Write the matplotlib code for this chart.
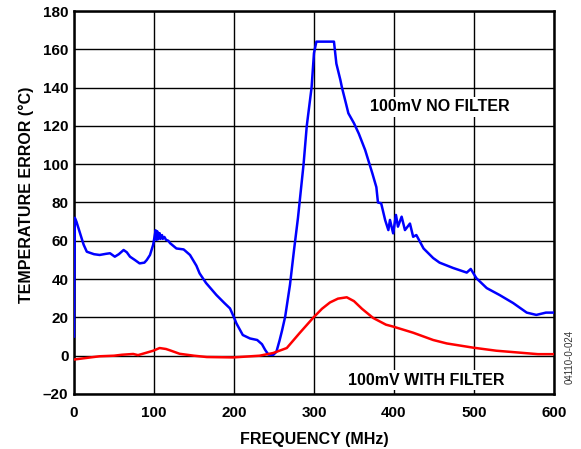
import matplotlib
matplotlib.use("Agg")
import matplotlib.pyplot as plt

plt.rcParams['font.family'] = ['Liberation Sans', 'DejaVu Sans']
plt.rcParams['font.weight'] = 'bold'

# -------------------------------------------------------
# Datos
# -------------------------------------------------------
freq_nofilt = [0, 1, 3, 7.5, 12, 16, 25, 32, 40, 45, 51, 56, 62, 66, 70, 76, 82, 88,
               91, 95, 99, 102, 103, 104, 105, 107, 108, 110, 111, 113, 115, 118,
               120, 128, 137, 139, 145, 153, 157, 165, 178, 188, 195, 200, 203, 211,
               220, 229, 235, 239, 243, 249, 253, 257, 260, 264, 270, 275, 280, 284,
               287, 291, 297, 300, 303, 325, 328, 333, 335, 340, 343, 350, 356, 364,
               373, 378, 380, 384, 389, 393, 395, 399, 402.5, 405, 409.6, 413.75, 420,
               424, 428, 432.5, 437, 449, 457, 474, 491, 496, 503, 516, 532, 549, 566,
               578, 590, 600]
err_nofilt = [10, 72, 70, 64, 58, 54.3, 53, 52.6, 53.2, 53.5, 51.7, 53, 55.2, 54,
              51.7, 50, 48.2, 48.6, 50, 52.6, 58, 65.5, 60.5, 65, 60.8, 64, 61, 63, 61,
              62, 60.5, 60, 58.8, 56, 55.5, 54.8, 52.6, 47, 43, 38, 31.7, 27.5, 24.7,
              20, 16.9, 10.8, 9, 8.2, 6, 3, 0.6, 0.4, 2, 8, 13, 20.4, 37, 55, 72, 88,
              100, 120, 140, 158, 164, 164, 152.5, 144, 140, 131.7, 126.6, 121.4, 116,
              107.4, 95.2, 88, 80, 79.6, 70.8, 65.6, 70.9, 63.9, 73.5, 67.4, 72.6, 65.6,
              69, 62.1, 63, 59.5, 56, 51, 48.6, 45.8, 43.4, 45.3, 40.5, 35.3, 31.7,
              27.5, 22.5, 21.3, 22.5, 22.5]

freq_filt = [0, 15, 32, 50, 60, 74, 80, 90, 99, 107, 115, 120, 132, 150, 166, 199,
             232, 249, 266, 282, 299, 310, 320, 330, 341, 350, 360, 374, 390, 399,
             424, 449, 466, 499, 528, 557, 580, 600]
err_filt = [-2, -1.2, -0.3, 0, 0.5, 0.9, 0.3, 1.5, 2.6, 4, 3.5, 2.8, 1, 0, -0.7,
            -0.9, 0, 1.4, 4, 11.8, 19.8, 24.5, 27.8, 29.8, 30.5, 28.5, 24.5, 19.7,
            16.2, 15.2, 12, 8.2, 6.4, 4.2, 2.6, 1.6, 0.8, 0.8]

xticks = [0, 100, 200, 300, 400, 500, 600]
yticks = [-20, 0, 20, 40, 60, 80, 100, 120, 140, 160, 180]
ytick_labels = ["\u201320" if v < 0 else str(v) for v in yticks]

# -------------------------------------------------------
# Gráfica
# -------------------------------------------------------
fig = plt.figure(figsize=(5.81, 4.49), dpi=100)
ax = fig.add_axes([0.1274, 0.1225, 0.826, 0.853])

ax.plot(freq_nofilt, err_nofilt, color="#0000ff", lw=1.8, zorder=3)
ax.plot(freq_filt, err_filt, color="#ff0000", lw=1.8, zorder=3)

ax.set_xlim(0, 600)
ax.set_ylim(-20, 180)
ax.set_xticks(xticks)
ax.set_yticks(yticks)
ax.set_yticklabels(ytick_labels)
ax.tick_params(length=0, labelsize=11)
ax.tick_params(axis="x", pad=9)
ax.tick_params(axis="y", pad=4)
for lab in ax.get_xticklabels() + ax.get_yticklabels():
    lab.set_fontweight("bold")

ax.grid(True, color="black", lw=1.0)
ax.set_axisbelow(True)
for s in ax.spines.values():
    s.set_linewidth(1.8)

ax.set_xlabel("FREQUENCY (MHz)", fontsize=11.5, fontweight="bold")
ax.set_ylabel("TEMPERATURE ERROR (°C)", fontsize=11.5, fontweight="bold")
ax.xaxis.set_label_coords(0.5, -0.099)
ax.yaxis.set_label_coords(-0.083, 0.52)

box = dict(facecolor="white", edgecolor="none", pad=2)
ax.text(457, 130, "100mV NO FILTER", fontsize=11.5, fontweight="bold",
        ha="center", va="center", bbox=box, zorder=4)
ax.text(440, -12.7, "100mV WITH FILTER", fontsize=11.5, fontweight="bold",
        ha="center", va="center", bbox=box, zorder=4)

fig.text(0.981, 0.205, "04110-0-024", rotation=90, fontsize=7,
         fontweight="normal", color="#333333", ha="center", va="center")

fig.savefig("out.png", dpi=100)
